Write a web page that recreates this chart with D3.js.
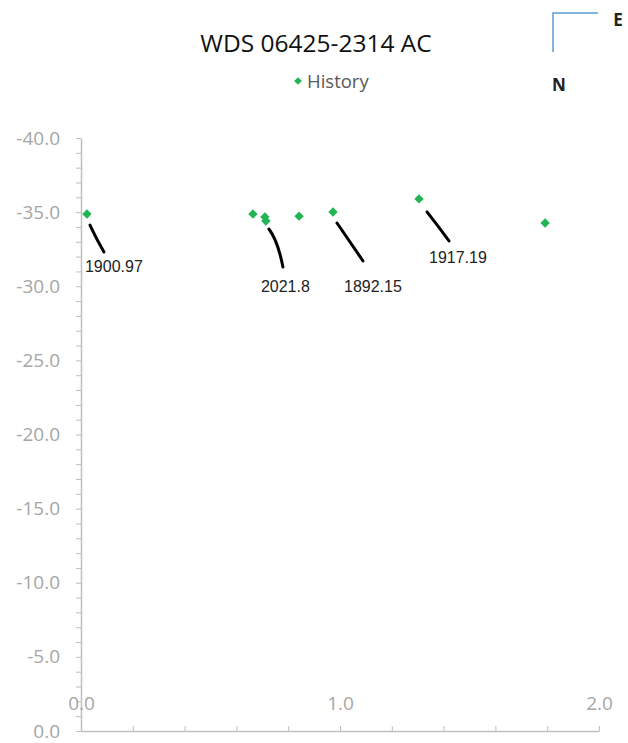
<!DOCTYPE html>
<html>
<head>
<meta charset="utf-8">
<script src="https://cdn.jsdelivr.net/npm/d3@7"></script>
<style>
  body { margin: 0; background: #fff; }
  svg { display: block; }
</style>
</head>
<body>
<svg id="chart" width="628" height="743"></svg>
<script>
// separation (x) and offset (y) of each historical measurement
var xValues = [0.023, 0.664, 0.710, 0.714, 0.842, 0.973, 1.305, 1.792];
var yValues = [-34.87, -34.87, -34.67, -34.40, -34.73, -35.01, -35.89, -34.27];

// data labels: which point they belong to and the text
var labelIndex = [0, 3, 5, 6];
var labelText = ["1900.97", "2021.8", "1892.15", "1917.19"];

var yTickValues = d3.range(-40, 1, 5);
var xTickValues = [0, 1, 2];

var title = "WDS 06425-2314 AC";
var seriesName = "History";

var green = "#22b455";
var axisGrey = "#bfbfbf";

var svg = d3.select("#chart");

var xScale = d3.scaleLinear()
    .domain([0, 2])
    .range([81, 599]);

var yScale = d3.scaleLinear()
    .domain([-40, 0])
    .range([138, 731]);

// square rotated 45deg, like the Excel diamond marker
var diamond = d3.symbol().type(d3.symbolSquare).size(44)();

// Title
svg.append("text")
    .attr("x", 316)
    .attr("y", 52)
    .attr("text-anchor", "middle")
    .attr("font-family", "Open Sans")
    .attr("font-size", 24.5)
    .attr("fill", "#111")
    .text(title);

// Legend
var legend = svg.append("g").attr("transform", "translate(298,81)");
legend.append("path")
    .attr("d", d3.symbol().type(d3.symbolSquare).size(30)())
    .attr("transform", "rotate(45)")
    .attr("fill", green);
legend.append("text")
    .attr("x", 9)
    .attr("y", 6.5)
    .attr("font-family", "Open Sans")
    .attr("font-size", 18.5)
    .attr("fill", "#595959")
    .text(seriesName);

// Compass (E / N)
var compass = svg.append("g");
compass.append("path")
    .attr("d", "M598,13H553V52")
    .attr("fill", "none")
    .attr("stroke", "#5b9bd5")
    .attr("stroke-width", 1.5);
compass.append("text")
    .attr("x", 618).attr("y", 26)
    .attr("text-anchor", "middle")
    .attr("font-family", "Open Sans")
    .attr("font-weight", "bold")
    .attr("font-size", 17)
    .attr("fill", "#222")
    .text("E");
compass.append("text")
    .attr("x", 559).attr("y", 91)
    .attr("text-anchor", "middle")
    .attr("font-family", "Open Sans")
    .attr("font-weight", "bold")
    .attr("font-size", 17)
    .attr("fill", "#222")
    .text("N");

// Y axis: minor ticks every 1, labels every 5
var yMinor = d3.axisLeft(yScale)
    .tickValues(d3.range(-40, 1, 1))
    .tickSize(5)
    .tickSizeOuter(0)
    .tickFormat("");
var yMajor = d3.axisLeft(yScale)
    .tickValues(yTickValues)
    .tickSize(0)
    .tickPadding(21)
    .tickFormat(function (d) { return d.toFixed(1); });

var gy = svg.append("g")
    .attr("class", "y axis")
    .attr("transform", "translate(" + xScale(0) + ",0)");
gy.call(yMinor);
var gyl = gy.append("g").call(yMajor);
gyl.select("path.domain").remove();
gy.select("path.domain").attr("stroke", axisGrey).attr("stroke-width", 1.5);
gy.selectAll("line").attr("stroke", axisGrey);
gy.selectAll("text")
    .attr("font-family", "Open Sans")
    .attr("font-size", 19)
    .attr("fill", "#a6a6a6");

// X axis: ticks every 0.2 pointing up, labels above
var xMinor = d3.axisTop(xScale)
    .tickValues(d3.range(0, 2.01, 0.2))
    .tickSize(5)
    .tickSizeOuter(0)
    .tickFormat("");
var xMajor = d3.axisTop(xScale)
    .tickValues(xTickValues)
    .tickSize(0)
    .tickPadding(21)
    .tickFormat(function (d) { return d.toFixed(1); });

var gx = svg.append("g")
    .attr("class", "x axis")
    .attr("transform", "translate(0," + yScale(0) + ")");
gx.call(xMinor);
var gxl = gx.append("g").call(xMajor);
gxl.select("path.domain").remove();
gx.select("path.domain").attr("stroke", axisGrey).attr("stroke-width", 1.5);
gx.selectAll("line").attr("stroke", axisGrey);
gx.selectAll("text")
    .attr("font-family", "Open Sans")
    .attr("font-size", 19)
    .attr("fill", "#a6a6a6");

var data = xValues.map(function (x, i) { return {x: x, y: yValues[i]}; });

// Leader lines and data labels (offsets relative to the point)
var labelLayout = [
    {x1: 3, y1: 11, x2: 17, y2: 38, cx: 9, cy: 24, tx: -2, ty: 58},
    {x1: 3, y1: 8, x2: 17, y2: 46, cx: 12, cy: 20, tx: -5, ty: 71},
    {x1: 4, y1: 11, x2: 30, y2: 49, cx: 17, cy: 30, tx: 11, ty: 80},
    {x1: 8, y1: 13, x2: 30, y2: 42, cx: 19, cy: 27, tx: 10, ty: 64}
];

var labels = svg.append("g").attr("class", "labels");
labelIndex.forEach(function (idx, i) {
    var px = xScale(xValues[idx]);
    var py = yScale(yValues[idx]);
    var l = labelLayout[i];
    labels.append("path")
        .attr("d", "M" + (px + l.x1) + "," + (py + l.y1) +
            "Q" + (px + l.cx) + "," + (py + l.cy) + " " + (px + l.x2) + "," + (py + l.y2))
        .attr("fill", "none")
        .attr("stroke", "#000")
        .attr("stroke-width", 3)
        .attr("stroke-linecap", "round");
    labels.append("text")
        .attr("x", px + l.tx)
        .attr("y", py + l.ty)
        .attr("font-family", "Liberation Sans")
        .attr("font-size", 16)
        .attr("fill", "#222")
        .text(labelText[i]);
});

// Points
svg.append("g")
    .attr("class", "points")
    .selectAll("path")
    .data(data)
    .enter()
    .append("path")
    .attr("transform", function (d) {
        return "translate(" + xScale(d.x) + "," + yScale(d.y) + ") rotate(45)";
    })
    .attr("d", diamond)
    .attr("fill", green);
</script>
</body>
</html>
